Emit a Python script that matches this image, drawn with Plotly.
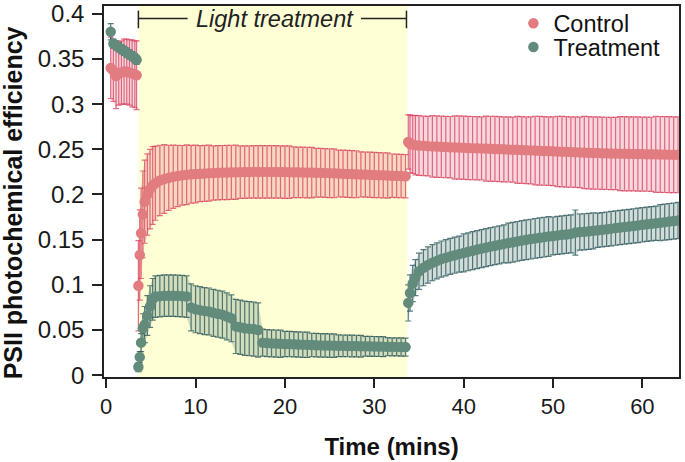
import plotly.graph_objects as go

# ---------------- data ----------------
time_dark = [0.5, 0.8, 1.1, 1.4, 1.7, 2.0, 2.3, 2.6, 2.9, 3.2, 3.4]
time_light = [3.6, 3.75, 3.9, 4.1, 4.3, 4.6, 4.9, 5.2, 5.5,
              6.0, 6.5, 7.0, 7.5, 8.0, 8.5, 9.0, 9.5, 10.0, 10.5,
              11.0, 11.5, 12.0, 12.5, 13.0, 13.5, 14.0, 14.5, 15.0, 15.5,
              16.0, 16.5, 17.0, 17.5, 18.0, 18.5, 19.0, 19.5, 20.0, 20.5,
              21.0, 21.5, 22.0, 22.5, 23.0, 23.5, 24.0, 24.5, 25.0, 25.5,
              26.0, 26.5, 27.0, 27.5, 28.0, 28.5, 29.0, 29.5, 30.0, 30.5,
              31.0, 31.5, 32.0, 32.5, 33.0, 33.5]
time_recovery = [33.8, 34.0, 34.3, 34.6,
                 35.0, 35.5, 36.0, 36.5, 37.0, 37.5, 38.0, 38.5, 39.0, 39.5,
                 40.0, 40.5, 41.0, 41.5, 42.0, 42.5, 43.0, 43.5, 44.0, 44.5,
                 45.0, 45.5, 46.0, 46.5, 47.0, 47.5, 48.0, 48.5, 49.0, 49.5,
                 50.0, 50.5, 51.0, 51.5, 52.0, 52.5, 53.0, 53.5, 54.0, 54.5,
                 55.0, 55.5, 56.0, 56.5, 57.0, 57.5, 58.0, 58.5, 59.0, 59.5,
                 60.0, 60.5, 61.0, 61.5, 62.0, 62.5, 63.0, 63.5, 64.0]

control_dark = [0.340, 0.337, 0.331, 0.334, 0.335, 0.336, 0.336, 0.335, 0.334, 0.333, 0.332]
control_light = [0.099, 0.133, 0.157, 0.178, 0.192, 0.200, 0.206, 0.210, 0.2125,
                 0.2155, 0.2172, 0.2185, 0.2196, 0.2205, 0.2212, 0.2218, 0.2223, 0.2227, 0.2230,
                 0.2233, 0.2236, 0.2238, 0.2240, 0.2242, 0.2244, 0.2245, 0.2246, 0.2247, 0.2248,
                 0.2249, 0.2250, 0.2250, 0.2250, 0.2250, 0.2250, 0.2250, 0.2249, 0.2248, 0.2247,
                 0.2246, 0.2245, 0.2244, 0.2243, 0.2242, 0.2241, 0.2240, 0.2238, 0.2236, 0.2234,
                 0.2232, 0.2230, 0.2228, 0.2226, 0.2224, 0.2222, 0.2220, 0.2218, 0.2216, 0.2214,
                 0.2212, 0.2210, 0.2208, 0.2206, 0.2204, 0.2202]
control_recovery = [0.258, 0.2562, 0.2552, 0.2546,
                    0.2542, 0.2538, 0.2535, 0.2532, 0.2530, 0.2528, 0.2525, 0.2523, 0.2521, 0.2519,
                    0.2517, 0.2515, 0.2513, 0.2511, 0.2510, 0.2508, 0.2506, 0.2504, 0.2502, 0.2500,
                    0.2498, 0.2496, 0.2494, 0.2492, 0.2490, 0.2488, 0.2486, 0.2484, 0.2482, 0.2480,
                    0.2478, 0.2476, 0.2474, 0.2472, 0.2470, 0.2468, 0.2466, 0.2464, 0.2462, 0.2460,
                    0.2458, 0.2456, 0.2455, 0.2454, 0.2453, 0.2452, 0.2451, 0.2450, 0.2449, 0.2448,
                    0.2447, 0.2446, 0.2445, 0.2444, 0.2443, 0.2442, 0.2441, 0.2440, 0.2439]

control_err_dark = [0.034, 0.034, 0.036, 0.035, 0.035, 0.036, 0.036, 0.036, 0.037, 0.037, 0.038]
control_err_light = [0.050, 0.050, 0.050, 0.048, 0.046, 0.045, 0.044, 0.043, 0.041,
                     0.039, 0.038, 0.036, 0.035, 0.034, 0.033, 0.033, 0.032, 0.032, 0.031,
                     0.031, 0.031, 0.030, 0.030, 0.030, 0.030, 0.030, 0.030, 0.029, 0.029,
                     0.029, 0.029, 0.029, 0.029, 0.029, 0.029, 0.029, 0.029, 0.029, 0.029,
                     0.028, 0.028, 0.028, 0.028, 0.028, 0.027, 0.027, 0.027, 0.027, 0.027,
                     0.026, 0.026, 0.026, 0.026, 0.026, 0.025, 0.025, 0.025, 0.025, 0.025,
                     0.025, 0.025, 0.024, 0.024, 0.024, 0.024]
control_err_recovery = [0.030, 0.032, 0.032, 0.033,
                        0.033, 0.033, 0.033, 0.034, 0.034, 0.034, 0.034, 0.034, 0.035, 0.035,
                        0.035, 0.035, 0.035, 0.035, 0.035, 0.036, 0.036, 0.036, 0.036, 0.036,
                        0.036, 0.036, 0.037, 0.037, 0.037, 0.037, 0.038, 0.038, 0.038, 0.038,
                        0.038, 0.039, 0.039, 0.039, 0.039, 0.039, 0.039, 0.040, 0.040, 0.040,
                        0.040, 0.040, 0.040, 0.040, 0.040, 0.041, 0.041, 0.041, 0.041, 0.041,
                        0.041, 0.041, 0.041, 0.042, 0.042, 0.042, 0.042, 0.042, 0.042]

treatment_dark = [0.380, 0.367, 0.365, 0.363, 0.361, 0.359, 0.357, 0.355, 0.353, 0.351, 0.349]
treatment_light = [0.009, 0.020, 0.036, 0.052, 0.056, 0.066, 0.076, 0.084, 0.087,
                   0.0875, 0.088, 0.088, 0.088, 0.0878, 0.0875, 0.087, 0.075, 0.073, 0.072,
                   0.071, 0.0705, 0.069, 0.068, 0.067, 0.065, 0.063, 0.054, 0.053, 0.052,
                   0.0515, 0.051, 0.050, 0.036, 0.0355, 0.0352, 0.035, 0.0348, 0.0346, 0.0344,
                   0.0342, 0.034, 0.0338, 0.0336, 0.0334, 0.0332, 0.033, 0.0329, 0.0328, 0.0327,
                   0.0326, 0.0325, 0.0324, 0.0323, 0.0322, 0.0321, 0.032, 0.0319, 0.0318, 0.0317,
                   0.0316, 0.0315, 0.0314, 0.0313, 0.0312, 0.0311]
treatment_recovery = [0.080, 0.091, 0.1015, 0.108,
                      0.115, 0.119, 0.122, 0.1245, 0.1265, 0.1285, 0.130, 0.1315, 0.1328, 0.134,
                      0.1353, 0.1366, 0.1378, 0.139, 0.1401, 0.1412, 0.1423, 0.1433, 0.1443, 0.1453,
                      0.1463, 0.1472, 0.1481, 0.149, 0.1498, 0.1506, 0.1514, 0.1521, 0.1528, 0.1535,
                      0.1541, 0.1547, 0.1553, 0.1558, 0.1564, 0.1578, 0.1584, 0.1587, 0.1592, 0.1598,
                      0.1604, 0.161, 0.1616, 0.1622, 0.1628, 0.1634, 0.164, 0.1646, 0.1652, 0.1658,
                      0.1664, 0.167, 0.1676, 0.1682, 0.1688, 0.1694, 0.170, 0.1706, 0.1712]

treatment_err_dark = [0.009, 0.005, 0.005, 0.005, 0.005, 0.005, 0.005, 0.005, 0.005, 0.005, 0.005]
treatment_err_light = [0.005, 0.006, 0.010, 0.016, 0.020, 0.022, 0.023, 0.023, 0.023,
                       0.023, 0.023, 0.023, 0.023, 0.023, 0.023, 0.023,
                       0.026, 0.026, 0.026, 0.026, 0.026, 0.026, 0.026, 0.026, 0.026, 0.026,
                       0.030, 0.030, 0.030, 0.030, 0.030, 0.030,
                       0.015, 0.015, 0.015, 0.015, 0.015,
                       0.014, 0.014, 0.014, 0.014, 0.014, 0.014,
                       0.013, 0.013, 0.013, 0.013, 0.013, 0.013,
                       0.012, 0.012, 0.012, 0.012, 0.012, 0.012,
                       0.011, 0.011, 0.011, 0.011, 0.011,
                       0.010, 0.010, 0.010, 0.010, 0.010]
treatment_err_recovery = [0.020, 0.020, 0.020, 0.020,
                          0.020, 0.020, 0.020, 0.020, 0.020, 0.020, 0.020, 0.020, 0.020, 0.020,
                          0.021, 0.021, 0.021, 0.021, 0.021, 0.021, 0.021, 0.021, 0.021, 0.021,
                          0.022, 0.022, 0.022, 0.022, 0.022, 0.022, 0.022, 0.022, 0.022, 0.022,
                          0.021, 0.021, 0.021, 0.021, 0.021, 0.025, 0.020, 0.020, 0.020, 0.020,
                          0.019, 0.019, 0.019, 0.019, 0.019, 0.019, 0.019, 0.019, 0.019, 0.019,
                          0.019, 0.019, 0.019, 0.019, 0.020, 0.020, 0.020, 0.020, 0.020]

light_start, light_end = 3.6, 33.7
light_label = "Light treatment"
x_title = "Time (mins)"
y_title = "PSII photochemical efficiency"
x_ticks = [0, 10, 20, 30, 40, 50, 60]

# ---------------- assemble ----------------
phases_time = [time_dark, time_light, time_recovery]
phases_control = [(control_dark, control_err_dark), (control_light, control_err_light),
                  (control_recovery, control_err_recovery)]
phases_treat = [(treatment_dark, treatment_err_dark), (treatment_light, treatment_err_light),
                (treatment_recovery, treatment_err_recovery)]

time = time_dark + time_light + time_recovery
control = control_dark + control_light + control_recovery
control_err = control_err_dark + control_err_light + control_err_recovery
treatment = treatment_dark + treatment_light + treatment_recovery
treatment_err = treatment_err_dark + treatment_err_light + treatment_err_recovery
for arr in (control, control_err, treatment, treatment_err):
    assert len(arr) == len(time), len(arr)

FONT = "Liberation Sans, Arial, sans-serif"
C_CONTROL = "#e17c80"
C_TREAT = "#628b7c"


def band_polygon(phases):
    """Closed mean±err polygons, one per phase, separated by None."""
    xs, ys = [], []
    for t, (m, e) in zip(phases_time, phases):
        up = [a + b for a, b in zip(m, e)]
        lo = [a - b for a, b in zip(m, e)]
        xs += t + t[::-1] + [t[0], None]
        ys += up + lo[::-1] + [up[0], None]
    return xs, ys


fig = go.Figure()

# translucent error envelopes (behind the error bars)
for phases, fillc in ((phases_control, "rgba(230,130,148,0.32)"),
                      (phases_treat, "rgba(115,148,138,0.32)")):
    bx, by = band_polygon(phases)
    fig.add_trace(go.Scatter(x=bx, y=by, mode="lines", fill="toself", fillcolor=fillc,
                             line=dict(width=0), hoverinfo="skip", showlegend=False))

fig.add_trace(go.Scatter(
    x=time, y=control, mode="markers", name="Control",
    marker=dict(color=C_CONTROL, size=10.5, line=dict(width=0)),
    error_y=dict(type="data", array=control_err, visible=True,
                 color="rgba(212,55,85,0.7)", thickness=1.2, width=3),
    legend="legend",
))
fig.add_trace(go.Scatter(
    x=time, y=treatment, mode="markers", name="Treatment",
    marker=dict(color=C_TREAT, size=10.5, line=dict(width=0)),
    error_y=dict(type="data", array=treatment_err, visible=True,
                 color="rgba(35,80,85,0.75)", thickness=1.2, width=3),
    legend="legend2",
))

# light-treatment band
fig.add_shape(type="rect", xref="x", yref="paper", x0=light_start, x1=light_end,
              y0=0, y1=1, fillcolor="#ffffd5", line=dict(width=0), layer="below")

# bracket above the band
br_y, br_lo, br_hi = 0.3947, 0.384, 0.4035
text_x = 18.9
LINE = dict(color="#222222", width=1.5)
fig.add_shape(type="line", x0=light_start, x1=light_start, y0=br_lo, y1=br_hi, line=LINE)
fig.add_shape(type="line", x0=light_end - 0.1, x1=light_end - 0.1, y0=br_lo, y1=br_hi, line=LINE)
fig.add_shape(type="line", x0=light_start, x1=9.1, y0=br_y, y1=br_y, line=LINE)
fig.add_shape(type="line", x0=28.5, x1=light_end - 0.1, y0=br_y, y1=br_y, line=LINE)
fig.add_annotation(x=text_x, y=br_y, text=f"<i>{light_label}</i>", showarrow=False,
                   font=dict(family=FONT, size=23.5, color="#222222"),
                   xanchor="center", yanchor="middle")

# y-axis title placed as a rotated annotation for exact positioning
fig.add_annotation(xref="paper", yref="paper", x=0, y=0.468, xshift=-91,
                   text=f"<b>{y_title}</b>", textangle=-90, showarrow=False,
                   font=dict(family=FONT, size=25, color="#111111"),
                   xanchor="center", yanchor="middle")

fig.update_layout(
    width=685, height=462,
    margin=dict(l=104, r=6, t=6, b=85, autoexpand=False),
    paper_bgcolor="white", plot_bgcolor="white",
    font=dict(family=FONT, size=22, color="#1a1a1a"),
    legend=dict(x=0.712, y=0.953, xanchor="left", yanchor="middle",
                font=dict(family=FONT, size=23.5, color="#111111"),
                bgcolor="rgba(0,0,0,0)", borderwidth=0),
    legend2=dict(x=0.712, y=0.889, xanchor="left", yanchor="middle",
                 font=dict(family=FONT, size=23.5, color="#111111"),
                 bgcolor="rgba(0,0,0,0)", borderwidth=0),
    showlegend=True,
)
fig.update_xaxes(
    range=[-0.25, 64.1], tickvals=x_ticks, ticks="outside", ticklen=9, tickwidth=1.5,
    tickcolor="#222222", linecolor="#222222", linewidth=1.5, mirror=True,
    showgrid=False, zeroline=False, automargin=False,
    tickfont=dict(family=FONT, size=22, color="#1a1a1a"),
    title=dict(text=x_title, standoff=20,
               font=dict(family=FONT, size=24, color="#111111", weight="bold")),
)
fig.update_yaxes(
    range=[-0.002, 0.4086], dtick=0.05, tick0=0, ticks="outside", ticklen=10, tickwidth=1.5,
    tickcolor="#222222", linecolor="#222222", linewidth=1.5, mirror=True,
    showgrid=False, zeroline=False, automargin=False, ticklabelstandoff=3,
    tickfont=dict(family=FONT, size=24, color="#1a1a1a"),
)

# remove the browser's default 8px page margin so the figure sits at the window origin
fig.write_html("out.html", config={"displayModeBar": False},
               post_script="document.body.style.margin='0';")
